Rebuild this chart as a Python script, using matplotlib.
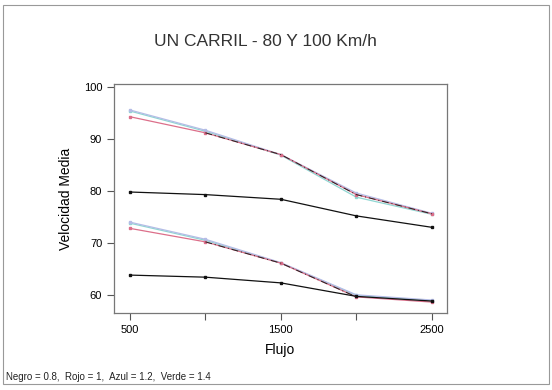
import numpy as np
import matplotlib.pyplot as plt
from matplotlib.patches import Rectangle

plt.rcParams['font.family'] = ['Liberation Sans', 'DejaVu Sans']

# flujo (veh/h) y velocidad media para cada factor
flujo = [500, 1000, 1500, 2000, 2500]

# 100 Km/h
v100_negro = [79.8, 79.3, 78.4, 75.2, 73.0]
v100_rojo = [94.3, 91.2, 87.0, 79.3, 75.6]
v100_azul = [95.6, 91.7, 87.0, 79.6, 75.7]
v100_verde = [95.4, 91.5, 86.9, 78.8, 75.5]

# 80 Km/h
v80_negro = [63.8, 63.4, 62.3, 59.7, 58.8]
v80_rojo = [72.8, 70.2, 66.1, 59.6, 58.6]
v80_azul = [74.0, 70.7, 66.2, 60.0, 59.0]
v80_verde = [73.8, 70.5, 66.1, 59.9, 58.8]

xticks = [500, 1000, 1500, 2000, 2500]
xlabels = ['500', '', '1500', '', '2500']
yticks = [60, 70, 80, 90, 100]

fig = plt.figure(figsize=(5.52, 3.9), dpi=100)
ax = fig.add_axes([114/552, 1-313/390, 333/552, 229/390])

series = [
    (v100_verde, '#8fd6d2'), (v100_azul, '#b4bce6'), (v100_rojo, '#dc6f8a'), (v100_negro, '#111111'),
    (v80_verde, '#8fd6d2'), (v80_azul, '#b4bce6'), (v80_rojo, '#dc6f8a'), (v80_negro, '#111111'),
]
for vals, col in series:
    ax.plot(flujo, vals, color=col, lw=0.9, marker='s', ms=2.0, mec=col, mfc=col)

# trazo oscuro encima de las curvas coincidentes
ax.plot(flujo[1:], v100_rojo[1:], color='#222222', lw=0.7, ls=(0, (7, 3, 1, 3)))
ax.plot(flujo[1:4], v80_rojo[1:4], color='#222222', lw=0.7, ls=(0, (7, 3, 1, 3)))

ax.set_xlim(395, 2600)
ax.set_ylim(56.5, 100.6)
ax.set_xticks(xticks)
ax.set_xticklabels(xlabels)
ax.set_yticks(yticks)
ax.tick_params(axis='both', labelsize=8, color='#555555', length=5, width=0.8)
for sp in ax.spines.values():
    sp.set_color('#777777')
    sp.set_linewidth(0.9)

ax.set_xlabel('Flujo', fontsize=10, labelpad=6)
ax.set_ylabel('Velocidad Media', fontsize=10, labelpad=8)

fig.text(265/552, 1-41/390, 'UN CARRIL - 80 Y 100 Km/h', ha='center', va='center', fontsize=12.5, color='#333333')
fig.text(6/552, 1-377/390, 'Negro = 0.8,  Rojo = 1,  Azul = 1.2,  Verde = 1.4', ha='left', va='center', fontsize=7, color='#222222')

# marco de la hoja
fig.add_artist(Rectangle((3/552, 6/390), 546/552, 379/390, transform=fig.transFigure,
                         fill=False, ec='#999999', lw=0.8))

fig.savefig('out.png', dpi=100)
